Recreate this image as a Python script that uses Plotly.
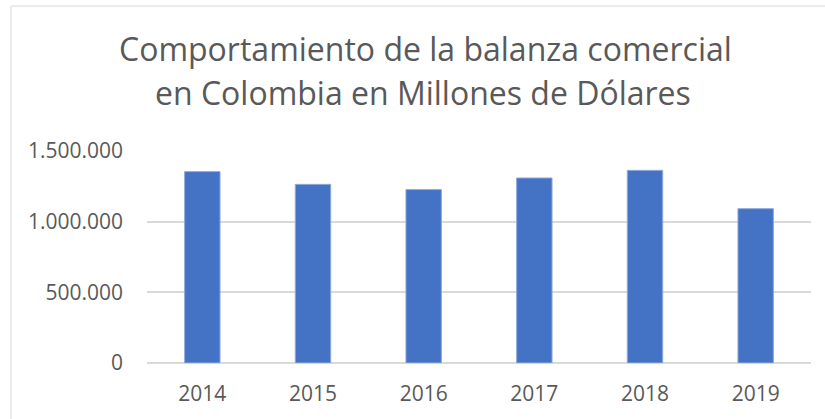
import plotly.graph_objects as go

years = ["2014", "2015", "2016", "2017", "2018", "2019"]
balanza = [1354000, 1264000, 1227000, 1309000, 1363000, 1092000]
y_ticks = [0, 500000, 1000000, 1500000]
title_lines = ["Comportamiento de la balanza comercial", "en Colombia en Millones de Dólares"]

FONT = "Open Sans"
GREY = "#595959"

fig = go.Figure()
fig.add_trace(go.Bar(
    x=years, y=balanza,
    marker=dict(color="#4472C4", line=dict(color="#8EA9DB", width=1)),
    hoverinfo="skip",
))

fig.update_layout(
    width=825, height=419,
    margin=dict(l=147, r=14, t=151, b=56),
    paper_bgcolor="white", plot_bgcolor="white",
    separators=",.",
    bargap=0.68,
    showlegend=False,
    font=dict(family=FONT, color=GREY),
    xaxis=dict(
        showgrid=False, showline=False, ticks="",
        tickfont=dict(size=21, color=GREY, family=FONT),
        ticklabelstandoff=16, automargin=False,
    ),
    yaxis=dict(
        range=[0, 1500000], tickvals=y_ticks, tickformat=",d",
        showgrid=True, gridcolor="#d9d9d9", gridwidth=1.5,
        zeroline=True, zerolinecolor="#d9d9d9", zerolinewidth=1.5,
        showline=False, ticks="",
        tickfont=dict(size=21, color=GREY, family=FONT),
        ticklabelstandoff=23, automargin=False,
    ),
    annotations=[
        dict(text=title_lines[0], xref="paper", yref="paper", x=0.419, y=1.485,
             xanchor="center", yanchor="middle", showarrow=False,
             font=dict(size=32, color=GREY, family=FONT)),
        dict(text=title_lines[1], xref="paper", yref="paper", x=0.415, y=1.275,
             xanchor="center", yanchor="middle", showarrow=False,
             font=dict(size=32, color=GREY, family=FONT)),
    ],
    shapes=[dict(type="rect", xref="paper", yref="paper",
                 x0=-0.2048, x1=1.1, y0=-0.5, y1=1.684,
                 line=dict(color="#d9d9d9", width=1))],
)

fig.write_html("out.html", config={"displayModeBar": False},
               post_script="document.body.style.margin='0px';")
